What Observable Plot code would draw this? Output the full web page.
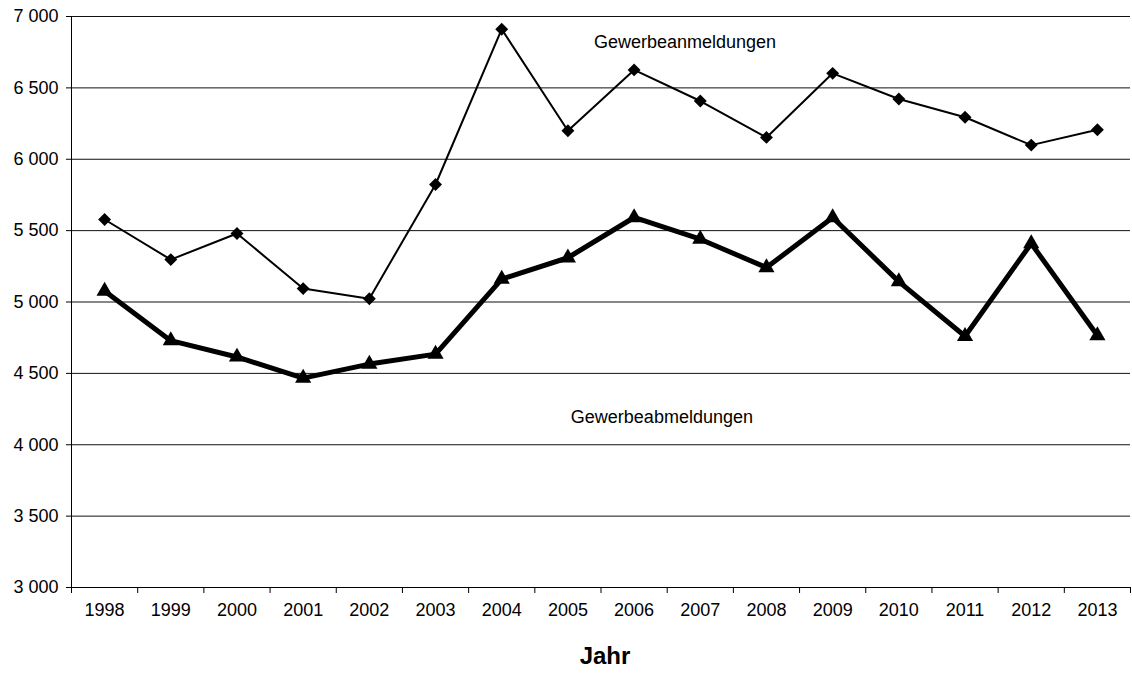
<!DOCTYPE html>
<html>
<head>
<meta charset="utf-8">
<script src="https://cdn.jsdelivr.net/npm/d3@7"></script>
<script src="https://cdn.jsdelivr.net/npm/@observablehq/plot@0.6"></script>
<style>
  html, body { margin: 0; padding: 0; background: #fff; }
  #chart svg { display: block; }
</style>
</head>
<body>
<div id="chart"></div>
<script>
const years = [1998, 1999, 2000, 2001, 2002, 2003, 2004, 2005, 2006, 2007, 2008, 2009, 2010, 2011, 2012, 2013];
const anmeldungen = [5578, 5297, 5480, 5094, 5023, 5823, 6911, 6200, 6626, 6408, 6153, 6602, 6422, 6294, 6099, 6207];
const abmeldungen = [5077, 4729, 4615, 4467, 4565, 4635, 5160, 5310, 5592, 5440, 5241, 5592, 5143, 4760, 5410, 4765];
const yTicks = [3000, 3500, 4000, 4500, 5000, 5500, 6000, 6500, 7000];
const gridValues = [3500, 4000, 4500, 5000, 5500, 6000, 6500, 7000];
const bandEdges = [1997.5, 1998.5, 1999.5, 2000.5, 2001.5, 2002.5, 2003.5, 2004.5, 2005.5, 2006.5, 2007.5, 2008.5, 2009.5, 2010.5, 2011.5, 2012.5, 2013.5];
const seriesLabels = [
  {year: 2006.77, value: 6818, text: "Gewerbeanmeldungen"},
  {year: 2006.42, value: 4191, text: "Gewerbeabmeldungen"}
];

const anmData = years.map((y, i) => ({year: y, value: anmeldungen[i]}));
const abmData = years.map((y, i) => ({year: y, value: abmeldungen[i]}));
const fmt = d => d3.format(",")(d).replace(",", " ");
const FONT = "'Liberation Sans', Arial, Helvetica, sans-serif";

const chart = Plot.plot({
  width: 1132,
  height: 677,
  marginLeft: 71,
  marginRight: 2,
  marginTop: 16,
  marginBottom: 90,
  style: {fontFamily: FONT, fontSize: "18px", color: "#000", background: "#fff"},
  x: {domain: [1997.5, 2013.5], type: "linear"},
  y: {domain: [3000, 7000]},
  marks: [
    Plot.ruleY(gridValues, {stroke: "#111", strokeWidth: 1}),
    Plot.axisY({ticks: yTicks, tickFormat: fmt, tickSize: 5, tickPadding: 8, label: null, fontSize: 18, stroke: "#000"}),
    Plot.axisX({ticks: years, tickFormat: d => String(d), tickSize: 0, tickPadding: 16, label: null, fontSize: 18}),
    Plot.axisX({ticks: bandEdges, tickFormat: () => "", tickSize: 6, label: null, stroke: "#000"}),
    Plot.ruleY([3000], {stroke: "#000", strokeWidth: 1}),
    Plot.ruleX([1997.5], {stroke: "#000", strokeWidth: 1}),
    Plot.line(anmData, {x: "year", y: "value", stroke: "#000", strokeWidth: 2}),
    Plot.dot(anmData, {x: "year", y: "value", symbol: "diamond2", r: 5.8, fill: "#000", stroke: "none"}),
    Plot.line(abmData, {x: "year", y: "value", stroke: "#000", strokeWidth: 5}),
    Plot.dot(abmData, {x: "year", y: "value", symbol: "triangle", r: 6, fill: "#000", stroke: "none"}),
    Plot.text(seriesLabels, {x: "year", y: "value", text: "text", fontSize: 18, fill: "#000"}),
    Plot.text(["Jahr"], {frameAnchor: "bottom", dy: 76, dx: 4, fontSize: 24, fontWeight: "bold", fill: "#000"})
  ]
});
document.getElementById("chart").appendChild(chart);
</script>
</body>
</html>
